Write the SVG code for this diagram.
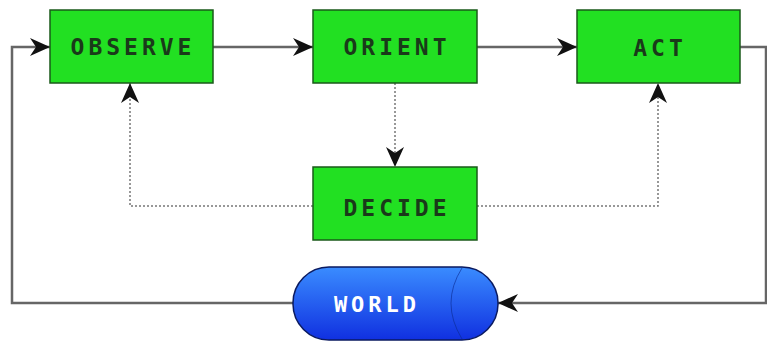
<svg xmlns="http://www.w3.org/2000/svg" width="767" height="344" viewBox="0 0 767 344">
<defs>
<marker id="ah" markerWidth="22" markerHeight="18" refX="20" refY="9" orient="auto" markerUnits="userSpaceOnUse">
<path d="M0,0 L20,9 L0,18 L6,9 Z" fill="#111"/>
</marker>
<linearGradient id="blue" x1="0" y1="0" x2="0" y2="1">
<stop offset="0" stop-color="#3a8cff"/>
<stop offset="1" stop-color="#1030e0"/>
</linearGradient>
<style>
.box{fill:#22e022;stroke:#1a5a1a;stroke-width:1.5}
.lbl{font-family:"DejaVu Sans Mono",monospace;font-weight:bold;font-size:23px;fill:#1a3a1a;letter-spacing:4px;text-anchor:middle;dominant-baseline:central}
.wl{font-family:"DejaVu Sans Mono",monospace;font-weight:bold;font-size:22px;fill:#ffffff;letter-spacing:4px;text-anchor:middle;dominant-baseline:central}
.solid{fill:none;stroke:#666;stroke-width:2.5}
.dot{fill:none;stroke:#777;stroke-width:1.5;stroke-dasharray:2 2}
</style>
</defs>
<rect width="767" height="344" fill="#ffffff"/>
<g id="connectors">
<path class="solid" d="M213,47 L313,47" marker-end="url(#ah)"/>
<path class="solid" d="M477,47 L577,47" marker-end="url(#ah)"/>
<path class="solid" d="M293,303 L12,303 L12,47 L50,47" marker-end="url(#ah)"/>
<path class="solid" d="M740,47 L766,47 L766,303 L498,303" marker-end="url(#ah)"/>
<path class="dot" d="M395,83 L395,167" marker-end="url(#ah)"/>
<path class="dot" d="M313,206 L130,206 L130,83" marker-end="url(#ah)"/>
<path class="dot" d="M477,206 L658,206 L658,83" marker-end="url(#ah)"/>
</g>
<g id="observe"><rect class="box" x="50" y="10" width="163" height="73"/><text class="lbl" x="133" y="47">OBSERVE</text></g>
<g id="orient"><rect class="box" x="313" y="10" width="164" height="73"/><text class="lbl" x="397" y="47">ORIENT</text></g>
<g id="act"><rect class="box" x="577" y="10" width="163" height="73"/><text class="lbl" x="660" y="48">ACT</text></g>
<g id="decide"><rect class="box" x="313" y="167" width="164" height="73"/><text class="lbl" x="397" y="208">DECIDE</text></g>
<g id="world">
<rect x="293" y="267" width="205" height="73" rx="36" ry="36" fill="url(#blue)" stroke="#0a1a60" stroke-width="1.5"/>
<path d="M462,268 Q440,303 462,339" fill="none" stroke="#0a2a90" stroke-width="1" opacity="0.6"/>
<text class="wl" x="377" y="304">WORLD</text>
</g>
</svg>
